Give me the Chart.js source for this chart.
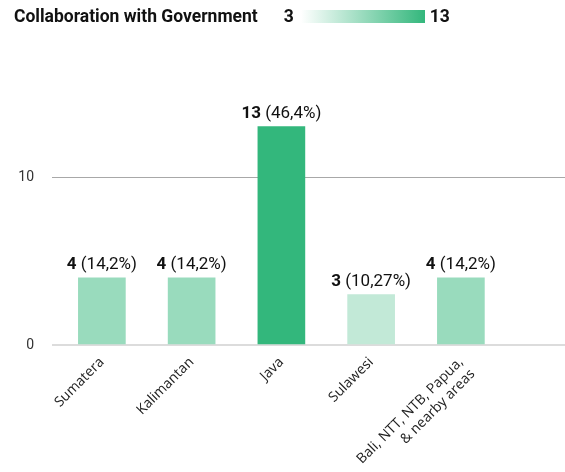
<!DOCTYPE html>
<html>
<head>
<meta charset="utf-8">
<script src="https://cdn.jsdelivr.net/npm/chart.js@4.4.0/dist/chart.umd.min.js"></script>
<style>
  body { margin: 0; background: #fff; }
  #wrap { position: relative; width: 565px; height: 472px; }
  #head {
    position: absolute; top: 6px; left: 14px;
    display: flex; align-items: center;
    font-family: Roboto, sans-serif; font-weight: bold; font-size: 17.5px; color: #111;
  }
  #head .min { margin-left: 26px; }
  #head .bar {
    width: 124px; height: 13px; margin: 0 5px 0 7px;
    background: linear-gradient(to right, #ffffff, #33b77c);
  }
  canvas { position: absolute; top: 0; left: 0; }
</style>
</head>
<body>
<div id="wrap">
  <canvas id="chart" width="565" height="472"></canvas>
  <div id="head">
    <span>Collaboration with Government</span>
    <span class="min">3</span>
    <span class="bar"></span>
    <span>13</span>
  </div>
</div>
<script>
// Kategorier och värden
const kategorier = ['Sumatera', 'Kalimantan', 'Java', 'Sulawesi', ['Bali, NTT, NTB, Papua,', '& nearby areas']];
const antal = [4, 4, 13, 3, 4];
const andel = ['14,2%', '14,2%', '46,4%', '10,27%', '14,2%'];
const yTicks = [0, 10];

const GRON = '#33b77c';

// Ljusare grönt för lägre värden
function farg(v) {
    if (v >= 13) return GRON;
    if (v >= 4) return '#99dbbd';
    return '#c2e9d7';
}

// Rita "4 (14,2%)" ovanför varje stapel
const etiketter = {
    id: 'etiketter',
    afterDatasetsDraw(chart) {
        const ctx = chart.ctx;
        const meta = chart.getDatasetMeta(0);
        ctx.save();
        ctx.textBaseline = 'alphabetic';
        ctx.textAlign = 'left';
        ctx.fillStyle = '#111';
        meta.data.forEach((bar, i) => {
            const fet = String(antal[i]);
            const rest = ' (' + andel[i] + ')';
            ctx.font = 'bold 17px Roboto';
            const w1 = ctx.measureText(fet).width;
            ctx.font = '17px Roboto';
            const w2 = ctx.measureText(rest).width;
            const x = bar.x - (w1 + w2) / 2;
            const y = bar.y - 9;
            ctx.font = 'bold 17px Roboto';
            ctx.fillText(fet, x, y);
            ctx.font = '17px Roboto';
            ctx.fillText(rest, x + w1, y);
        });
        ctx.restore();
    }
};

new Chart(document.getElementById('chart'), {
    type: 'bar',
    data: {
        datasets: [{
            data: antal.map((v, i) => ({ x: i, y: v })),
            backgroundColor: antal.map(farg),
            barThickness: 47
        }]
    },
    options: {
        responsive: false,
        animation: false,
        devicePixelRatio: 1,
        layout: { padding: { top: 93, right: 0, left: 0, bottom: 0 } },
        plugins: {
            legend: { display: false },
            tooltip: { enabled: false }
        },
        scales: {
            x: {
                type: 'linear',
                offset: false,
                min: -0.5,
                max: 5.16,
                afterBuildTicks: (s) => { s.ticks = kategorier.map((_, i) => ({ value: i })); },
                afterFit: (s) => {
                    s.height = 127;
                    s.paddingLeft = 0;
                    s.paddingRight = 0;
                },
                grid: { display: false },
                border: { display: false },
                ticks: {
                    autoSkip: false,
                    minRotation: 45,
                    maxRotation: 45,
                    padding: 1,
                    color: '#222',
                    font: { family: 'Open Sans', size: 14 },
                    callback: (v) => kategorier[v] ?? ''
                }
            },
            y: {
                min: 0,
                max: 15,
                afterBuildTicks: (s) => { s.ticks = yTicks.map(v => ({ value: v })); },
                afterFit: (s) => { s.width = 57; },
                border: { display: false },
                grid: {
                    color: (c) => c.tick && c.tick.value === 0 ? '#dcdcdc' : '#a8a8a8',
                    lineWidth: (c) => c.tick && c.tick.value === 0 ? 2 : 1,
                    tickLength: 5
                },
                ticks: {
                    padding: 18,
                    color: '#333',
                    font: { family: 'Roboto', size: 14 }
                }
            }
        }
    },
    plugins: [etiketter]
});
</script>
</body>
</html>
